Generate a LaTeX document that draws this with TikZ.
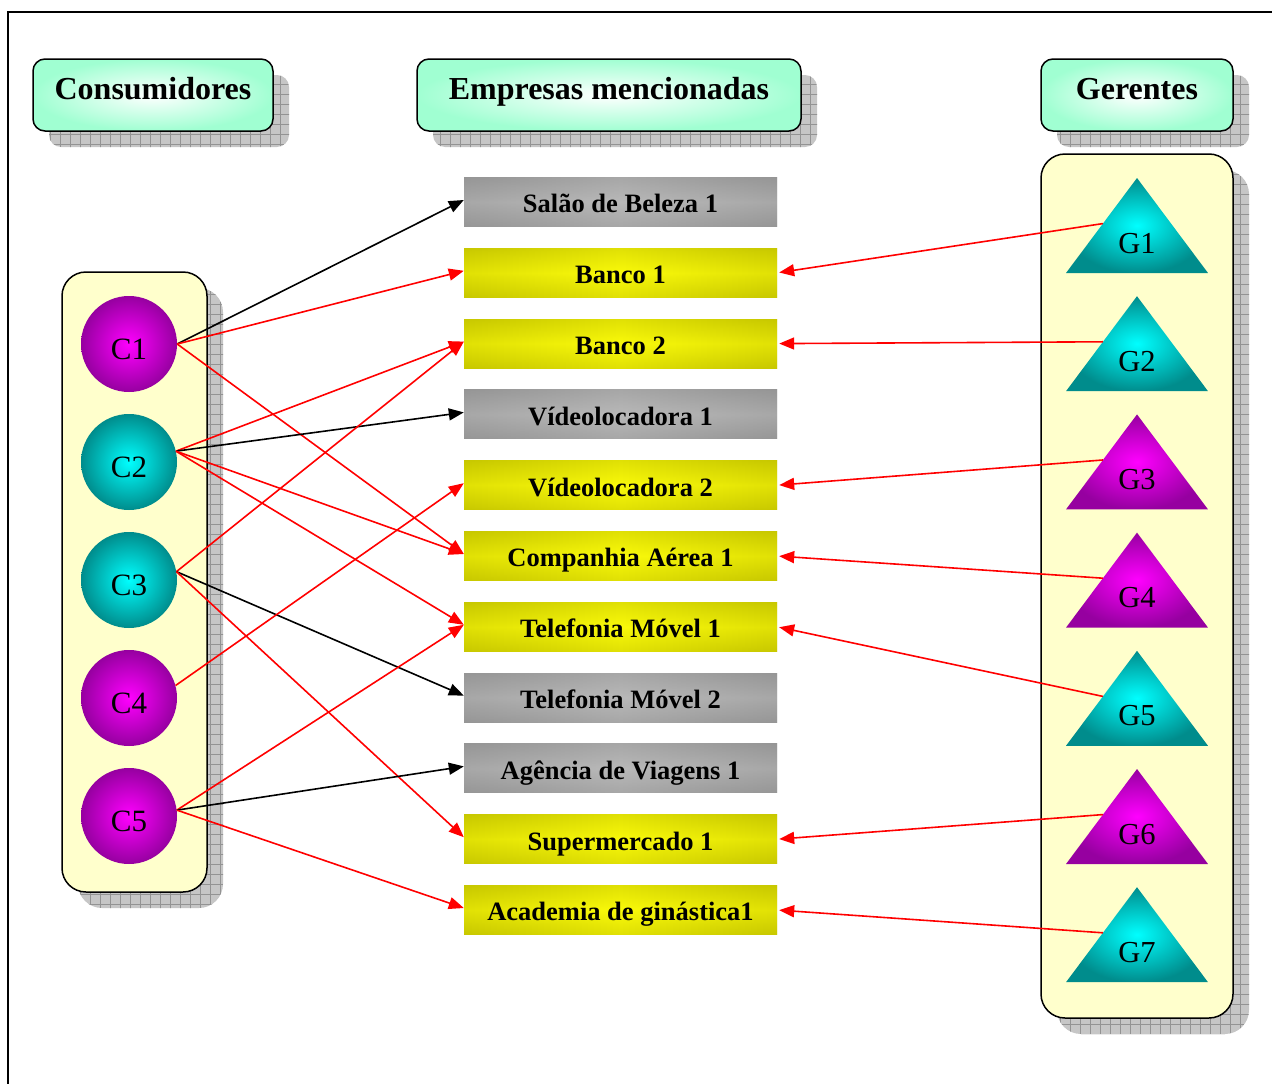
\documentclass[tikz,border=0pt]{standalone}
\usepackage{fontspec}
\setmainfont{Liberation Serif}
\usetikzlibrary{arrows.meta,shadows,patterns.meta,calc}

\definecolor{mint}{RGB}{160,255,210}
\definecolor{cream}{RGB}{255,255,204}
\definecolor{oliveedge}{RGB}{200,200,0}
\definecolor{olivemid}{RGB}{250,250,10}
\definecolor{greyedge}{RGB}{150,150,150}
\definecolor{greymid}{RGB}{185,185,185}
\definecolor{tealedge}{RGB}{0,140,140}
\definecolor{magedge}{RGB}{150,0,160}

\begin{document}
\begin{tikzpicture}[x=1pt, y=-1pt,
    gridshadow/.style={general shadow={fill=gray!45, shadow xshift=16pt, shadow yshift=-16pt,
        postaction={pattern={Hatch[distance=10pt, angle=0, line width=.6pt]}, pattern color=gray!85}}},
    heading/.style={draw, line width=1.5pt, rounded corners=12pt, minimum height=72pt,
        inner color=white, outer color=mint, text height=20pt, text depth=11.8pt,
        font=\fontsize{32}{36}\selectfont\bfseries, gridshadow},
    holder/.style={draw, line width=1.5pt, rounded corners=24pt, fill=cream, gridshadow},
    firm/.style={minimum width=313pt, minimum height=49pt, inner sep=0pt,
        text height=21.6pt, text depth=0pt, font=\fontsize{26.5}{30}\selectfont\bfseries},
    cited/.style={firm, left color=oliveedge, right color=oliveedge, middle color=olivemid,
        path picture={\shade[top color=oliveedge, bottom color=oliveedge, middle color=olivemid,
            opacity=.5] (path picture bounding box.south west) rectangle (path picture bounding box.north east);}},
    other/.style={firm, left color=greyedge, right color=greyedge, middle color=greymid,
        path picture={\shade[top color=greyedge, bottom color=greyedge, middle color=greymid,
            opacity=.5] (path picture bounding box.south west) rectangle (path picture bounding box.north east);}},
    mag/.style={inner color=magenta, outer color=magedge},
    cy/.style={inner color=cyan, outer color=tealedge},
    client/.style={circle, minimum size=96pt, inner sep=0pt, text height=30.6pt, text depth=0pt,
        font=\fontsize{31}{34}\selectfont},
    mgr/.style={minimum width=142pt, minimum height=95pt, inner sep=0pt,
        text height=55pt, text depth=0pt, font=\fontsize{30.5}{34}\selectfont,
        path picture={\shade[#1] (path picture bounding box.north)
            -- (path picture bounding box.south west)
            -- (path picture bounding box.south east) -- cycle;}},
    link/.style={line width=1.6pt, -{Triangle[length=15pt, width=12pt]}}]

    \useasboundingbox (0,0) rectangle (1272,1084);
    \draw[line width=1.5pt] (8,1084) -- (8,12) -- (1272,12);

    % column headings
    \node[heading, minimum width=240pt] (hcons) at (153,95) {Consumidores};
    \node[heading, minimum width=384pt] (hemp) at (609,95) {Empresas mencionadas};
    \node[heading, minimum width=192pt] (hger) at (1137,95) {Gerentes};

    % panels behind consumers and managers
    \node[holder, minimum width=145pt, minimum height=620pt] (clientes) at (134.5,582) {};
    \node[holder, minimum width=192pt, minimum height=864pt] (gerentes) at (1137,586) {};

    \foreach \i/\s in {1/mag,2/cy,3/cy,4/mag,5/mag}
        \node[client,\s] (c\i) at (129,{344+118*(\i-1)}) {C\i};

    \foreach \i/\s in {1/cy,2/cy,3/mag,4/mag,5/cy,6/mag,7/cy}
        \node[mgr=\s] (g\i) at (1137,{225.5+118.2*(\i-1)}) {G\i};

    \foreach \n/\t/\s [count=\k from 0] in {salao/Salão de Beleza 1/other,
            banco1/Banco 1/cited, banco2/Banco 2/cited, video1/Vídeolocadora 1/other,
            video2/Vídeolocadora 2/cited, aerea/Companhia Aérea 1/cited,
            tel1/Telefonia Móvel 1/cited, tel2/Telefonia Móvel 2/other,
            viagens/Agência de Viagens 1/other, super/Supermercado 1/cited,
            academia/Academia de ginástica1/cited}
        \node[\s] (\n) at (620.5,{202+70.8*\k}) {\t};

    % consumers to companies
    \foreach \a/\b/\c in {c1.east/salao.west/black, c1.east/banco1.west/red,
            c1.east/aerea.west/red, c2.13/banco2.west/red, c2.13/video1.west/black,
            c2.13/aerea.west/red, c2.13/tel1.west/red, c3.10/banco2.west/red,
            c3.10/tel2.west/black, c3.10/super.west/red, c4.15/video2.west/red,
            c5.7/tel1.west/red, c5.7/viagens.west/black, c5.7/academia.west/red}
        \draw[link,\c] (\a) -- ([yshift=2pt]\b);

    % managers to their companies
    \foreach \i/\b in {1/banco1, 2/banco2, 3/video2, 4/aerea, 5/tel1, 6/super, 7/academia}
        \draw[link,red,shorten >=2pt] ($(g\i.north)!.48!(g\i.south west)$) -- (\b.east);
\end{tikzpicture}
\end{document}
